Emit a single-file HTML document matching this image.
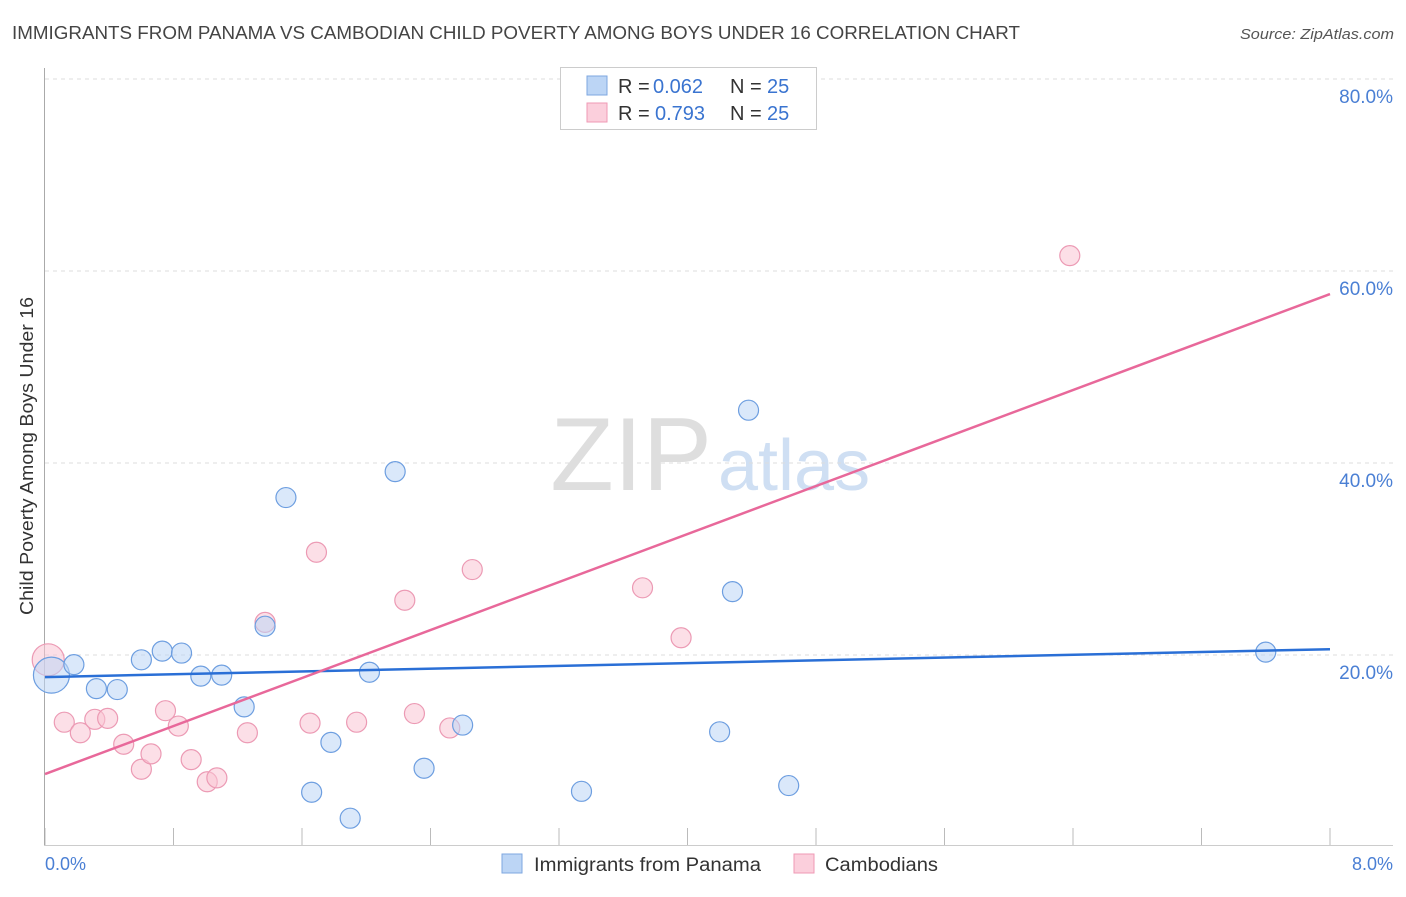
<!DOCTYPE html>
<html><head><meta charset="utf-8"><style>
body{margin:0;background:#fff;font-family:"Liberation Sans",sans-serif}
svg text{font-family:"Liberation Sans",sans-serif}
</style></head><body>
<svg id="chart" width="1406" height="892" xmlns="http://www.w3.org/2000/svg">
<text x="12" y="39" font-size="18" fill="#444" textLength="1008" lengthAdjust="spacingAndGlyphs">IMMIGRANTS FROM PANAMA VS CAMBODIAN CHILD POVERTY AMONG BOYS UNDER 16 CORRELATION CHART</text>
<text x="1240" y="39" font-size="15" fill="#555" font-style="italic" textLength="154" lengthAdjust="spacingAndGlyphs">Source: ZipAtlas.com</text>
<text x="712" y="490" font-size="104" text-anchor="end" fill="#dedede" font-family="Liberation Serif">ZIP</text>
<text x="718" y="490" font-size="72" fill="#cfdff3">atlas</text>
<g id="grid"></g>
<line x1="44.5" y1="68" x2="44.5" y2="845" stroke="#aaa"/>
<line x1="44" y1="845.5" x2="1393" y2="845.5" stroke="#ccc"/>
<text transform="translate(33,456) rotate(-90)" font-size="18" fill="#333" text-anchor="middle" textLength="318" lengthAdjust="spacingAndGlyphs">Child Poverty Among Boys Under 16</text>
<text x="45" y="870" font-size="18" fill="#4a7fd4">0.0%</text>
<text x="1393" y="870" font-size="18" fill="#4a7fd4" text-anchor="end">8.0%</text>
<g id="marks"></g>
<g>
<rect x="560.5" y="67.5" width="256" height="62" fill="#fff" stroke="#ccc"/>
<rect x="587" y="76" width="20" height="19" fill="#bcd5f5" stroke="#7ea7e0"/>
<rect x="587" y="103" width="20" height="19" fill="#fbcfdc" stroke="#ef9ab5"/>
<text x="618" y="93" font-size="20" fill="#333">R =</text>
<text x="653" y="93" font-size="20" fill="#3a74d0">0.062</text>
<text x="730" y="93" font-size="20" fill="#333">N =</text>
<text x="767" y="93" font-size="20" fill="#3a74d0">25</text>
<text x="618" y="120" font-size="20" fill="#333">R =</text>
<text x="655" y="120" font-size="20" fill="#3a74d0">0.793</text>
<text x="730" y="120" font-size="20" fill="#333">N =</text>
<text x="767" y="120" font-size="20" fill="#3a74d0">25</text>
</g>
<g>
<rect x="502" y="854" width="20" height="19" fill="#bcd5f5" stroke="#7ea7e0"/>
<text x="534" y="871" font-size="19" fill="#333" textLength="227" lengthAdjust="spacingAndGlyphs">Immigrants from Panama</text>
<rect x="794" y="854" width="20" height="19" fill="#fbcfdc" stroke="#ef9ab5"/>
<text x="825" y="871" font-size="19" fill="#333" textLength="113" lengthAdjust="spacingAndGlyphs">Cambodians</text>
</g>
</svg>
<script>
const yTicks=[20,40,60,80];
const yTickLabels=["20.0%","40.0%","60.0%","80.0%"];
const xTicks=[0,0.8,1.6,2.4,3.2,4.0,4.8,5.6,6.4,7.2,8.0];
const panamaX=[0.04,0.18,0.32,0.45,0.60,0.73,0.85,0.97,1.10,1.24,1.37,1.50,1.66,1.78,1.90,2.02,2.18,2.36,2.60,3.34,4.20,4.28,4.38,4.63,7.60];
const panamaY=[17.9,19.0,16.5,16.4,19.5,20.4,20.2,17.8,17.9,14.6,23.0,36.4,5.7,10.9,3.0,18.2,39.1,8.2,12.7,5.8,12.0,26.6,45.5,6.4,20.3];
const cambX=[0.02,0.12,0.22,0.31,0.39,0.49,0.60,0.66,0.75,0.83,0.91,1.01,1.07,1.26,1.37,1.65,1.69,1.94,2.24,2.30,2.52,2.66,3.72,3.96,6.38];
const cambY=[19.5,13.0,11.9,13.3,13.4,10.7,8.1,9.7,14.2,12.6,9.1,6.8,7.2,11.9,23.4,12.9,30.7,13.0,25.7,13.9,12.4,28.9,27.0,21.8,61.6];
const panamaTrend=[17.7,20.6];
const cambTrend=[7.6,57.6];
const NS="http://www.w3.org/2000/svg";
const xs=v=>45+v/8*1285;
const ys=v=>847-v*9.6;
function mk(t,a,p){const e=document.createElementNS(NS,t);for(const k in a)e.setAttribute(k,a[k]);p.appendChild(e);return e;}
const grid=document.getElementById('grid'),marks=document.getElementById('marks');
yTicks.forEach((t,i)=>{
 const l=mk('line',{x1:45,x2:1393,y1:ys(t),y2:ys(t),stroke:'#ddd','stroke-dasharray':'4,4'},grid);
 
 
 const tx=mk('text',{x:1393,y:ys(t)+24,'font-size':19,fill:'#4a7fd4','text-anchor':'end'},grid);
 tx.textContent=yTickLabels[i];
 
 
});
xTicks.forEach(t=>{
 const l=mk('line',{x1:xs(t),x2:xs(t),y1:828,y2:845,stroke:'#bbb'},grid);
 
 
});
function pts(X,Y,fill,stroke,name){
 X.forEach((x,i)=>{
  const r=(x<0.05)?(name==='panama-point'?18:16):10;
  const c=mk('circle',{cx:xs(x),cy:ys(Y[i]),r:r,fill:fill,'fill-opacity':0.55,stroke:stroke,'stroke-width':1.2},marks);
  
  
 });
}
pts(cambX,cambY,'#f9c4d4','#ec9ab4','cambodian-point');
pts(panamaX,panamaY,'#bcd5f5','#6d9ee0','panama-point');
const l1=mk('line',{x1:xs(0),y1:ys(panamaTrend[0]),x2:xs(8),y2:ys(panamaTrend[1]),stroke:'#2a6fd6','stroke-width':2.5},marks);


const l2=mk('line',{x1:xs(0),y1:ys(cambTrend[0]),x2:xs(8),y2:ys(cambTrend[1]),stroke:'#e8689a','stroke-width':2.5},marks);


</script>
</body></html>
